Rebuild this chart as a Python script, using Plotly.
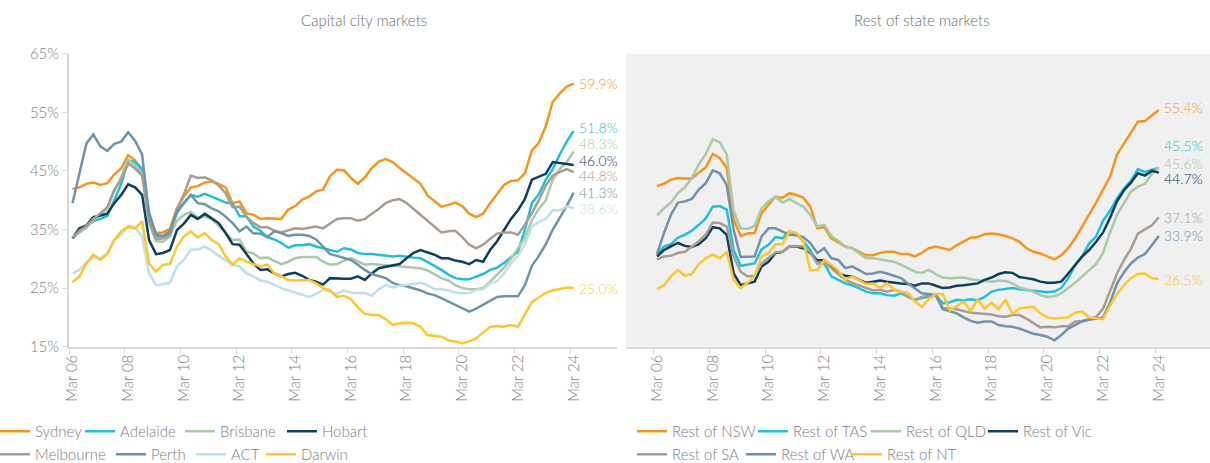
import plotly.graph_objects as go

W, H = 1210, 463

# ---------------- data ----------------
quarter_idx = list(range(73))  # Mar 06 ... Mar 24, quarterly
tick_positions = list(range(0, 73, 8))
tick_labels = ["Mar 06", "Mar 08", "Mar 10", "Mar 12", "Mar 14",
               "Mar 16", "Mar 18", "Mar 20", "Mar 22", "Mar 24"]
y_ticks = [15, 25, 35, 45, 55, 65]
y_tick_labels = ["15%", "25%", "35%", "45%", "55%", "65%"]

# Capital city markets (%)
sydney = [41.9, 42.2, 42.8, 43.0, 42.6, 42.9, 44.4, 45.4, 47.7, 46.8, 45.1, 37.6, 34.4, 34.5, 35.1, 38.6, 40.6, 42.2, 42.4, 43.0,
          43.2, 42.8, 42.2, 39.5, 39.8, 37.8, 37.5, 36.8, 36.9, 36.8, 36.8, 38.4, 39.0, 40.1, 40.6, 41.5, 41.8, 44.1, 45.2, 45.1,
          43.8, 42.8, 43.9, 45.5, 46.6, 47.0, 46.5, 45.5, 44.6, 43.8, 42.8, 40.8, 39.8, 38.9, 39.2, 39.6, 39.0, 37.7, 37.1, 37.7,
          39.5, 41.0, 42.6, 43.3, 43.4, 44.6, 48.5, 49.8, 52.6, 56.8, 58.2, 59.4, 59.9]
adelaide = [33.5, 34.7, 35.5, 36.4, 36.8, 37.3, 40.0, 42.8, 46.8, 46.5, 45.4, 38.0, 33.8, 33.8, 34.4, 37.8, 39.5, 40.9, 40.6, 41.1,
            40.6, 40.1, 39.6, 39.4, 37.3, 37.2, 35.5, 34.8, 33.7, 33.3, 32.7, 31.9, 32.3, 32.3, 32.5, 32.1, 31.8, 31.4, 31.2, 31.8,
            31.6, 31.0, 30.8, 30.8, 30.7, 30.5, 30.4, 30.5, 30.3, 30.2, 30.1, 29.5, 28.8, 28.1, 27.3, 26.7, 26.5, 26.5, 26.9, 27.4,
            28.1, 28.5, 29.3, 30.3, 31.2, 35.0, 39.5, 41.0, 43.5, 45.3, 47.8, 50.0, 51.8]
brisbane = [33.5, 34.5, 35.3, 36.6, 37.5, 38.5, 41.5, 44.0, 46.9, 46.0, 44.5, 36.0, 33.0, 32.9, 33.8, 36.5, 37.5, 38.0, 37.0, 37.2,
            36.8, 35.6, 34.4, 33.2, 33.3, 31.2, 30.9, 30.1, 30.2, 29.7, 29.1, 29.5, 30.1, 30.3, 30.3, 30.3, 29.5, 29.0, 29.1, 29.7,
            30.1, 29.5, 29.0, 29.1, 29.0, 28.8, 28.7, 28.6, 28.6, 28.4, 28.4, 28.0, 27.3, 26.7, 26.3, 25.5, 25.0, 24.8, 24.8, 25.0,
            26.1, 27.3, 28.5, 30.0, 31.8, 33.5, 36.6, 38.5, 40.0, 43.5, 45.3, 46.5, 48.3]
hobart = [33.5, 35.2, 35.7, 37.1, 37.4, 37.7, 39.5, 40.9, 42.7, 42.2, 40.9, 33.2, 30.8, 31.0, 31.5, 34.9, 36.0, 37.5, 36.8, 37.7,
          36.9, 36.1, 34.4, 32.5, 32.4, 30.7, 29.2, 28.1, 28.2, 27.5, 27.0, 27.4, 27.6, 27.1, 26.4, 26.1, 25.6, 26.7, 26.6, 26.6,
          26.6, 27.0, 26.4, 27.5, 28.4, 28.6, 28.8, 29.1, 30.1, 31.0, 31.5, 31.1, 30.7, 30.1, 30.1, 29.7, 29.5, 29.1, 29.8, 29.5,
          31.5, 33.0, 34.8, 36.8, 38.3, 40.2, 43.5, 44.0, 44.5, 46.5, 46.3, 46.1, 46.0]
melbourne = [33.6, 34.8, 35.6, 36.8, 37.8, 38.8, 41.8, 43.5, 46.3, 45.4, 44.2, 36.5, 33.3, 33.5, 34.0, 38.5, 41.0, 44.2, 43.8, 43.9,
             43.4, 42.5, 41.2, 38.8, 38.9, 37.2, 36.1, 35.4, 35.4, 34.8, 34.5, 34.9, 35.2, 35.1, 35.3, 35.5, 35.2, 36.0, 36.8, 36.9,
             36.9, 36.5, 36.8, 37.7, 38.5, 39.5, 40.0, 40.2, 39.5, 38.5, 37.5, 36.4, 35.4, 34.5, 34.7, 34.8, 33.7, 32.4, 31.8, 32.4,
             33.4, 34.3, 34.5, 34.5, 34.1, 35.8, 37.8, 40.0, 42.5, 44.2, 44.8, 45.3, 44.8]
perth = [39.5, 44.5, 49.7, 51.2, 49.2, 48.4, 49.6, 50.0, 51.6, 50.1, 47.8, 37.5, 34.1, 33.9, 34.7, 38.1, 39.5, 40.9, 39.5, 39.3,
         38.6, 38.1, 37.2, 36.1, 34.7, 35.5, 34.3, 34.3, 33.7, 34.7, 34.4, 33.9, 34.1, 34.1, 33.9, 33.3, 32.1, 30.8, 30.5, 30.1,
         29.8, 29.0, 28.1, 27.4, 27.1, 26.7, 25.9, 25.5, 25.3, 25.0, 24.6, 24.1, 23.8, 23.3, 22.7, 22.1, 21.6, 21.0, 21.5, 22.2,
         22.9, 23.5, 23.6, 23.6, 23.6, 25.5, 28.8, 30.5, 32.5, 35.0, 37.0, 39.0, 41.3]
act = [27.5, 28.1, 29.4, 30.3, 30.1, 31.0, 33.2, 34.1, 35.6, 35.4, 33.8, 27.5, 25.5, 25.7, 25.9, 28.7, 29.8, 31.6, 31.6, 32.1,
       31.4, 30.5, 29.7, 29.0, 28.7, 27.5, 27.0, 26.3, 26.1, 25.5, 25.0, 24.6, 24.2, 23.8, 23.5, 24.0, 24.7, 24.4, 24.0, 24.6,
       24.2, 24.1, 24.2, 23.7, 24.8, 25.5, 25.1, 25.4, 25.5, 25.7, 25.9, 25.5, 24.8, 24.8, 24.6, 24.2, 24.1, 24.1, 24.7, 24.8,
       25.8, 26.2, 27.5, 29.2, 30.5, 32.5, 35.5, 36.3, 36.8, 38.3, 38.3, 38.9, 38.6]
darwin = [26.0, 27.0, 29.2, 30.7, 29.8, 30.8, 33.2, 34.7, 35.4, 35.2, 36.4, 29.2, 27.8, 29.0, 29.1, 32.1, 33.8, 34.7, 33.6, 34.4,
          33.2, 32.5, 30.4, 29.0, 30.1, 29.5, 29.1, 28.7, 29.0, 27.5, 27.0, 26.4, 26.3, 26.4, 26.4, 25.8, 25.0, 24.6, 23.5, 23.7,
          23.1, 21.7, 20.6, 20.4, 20.4, 19.7, 18.7, 19.0, 19.1, 19.0, 18.4, 17.0, 16.9, 16.7, 16.1, 15.9, 15.6, 15.9, 16.4, 17.4,
          18.4, 18.5, 18.4, 18.7, 18.4, 20.5, 22.6, 23.4, 24.2, 24.6, 24.8, 25.1, 25.0]

# Rest of state markets (%)
rest_nsw = [42.4, 42.8, 43.5, 43.8, 43.7, 43.7, 44.7, 45.6, 47.9, 47.2, 45.5, 36.7, 33.9, 34.3, 34.4, 37.8, 39.2, 40.6, 40.4, 41.2,
            40.9, 40.4, 38.9, 35.2, 35.4, 33.5, 32.8, 32.1, 31.8, 31.2, 30.6, 30.6, 31.0, 31.2, 31.2, 30.8, 30.8, 30.4, 31.0, 31.8,
            32.1, 31.8, 31.5, 32.3, 32.9, 33.6, 33.7, 34.2, 34.3, 34.2, 33.9, 33.5, 32.9, 31.8, 31.2, 30.9, 30.4, 29.9, 30.6, 31.8,
            33.5, 35.5, 37.5, 39.6, 41.8, 44.0, 47.8, 49.6, 51.5, 53.4, 53.5, 54.5, 55.4]
rest_tas = [30.8, 32.1, 32.5, 33.6, 34.1, 34.8, 35.8, 36.9, 38.9, 39.0, 38.4, 31.5, 28.8, 29.0, 29.2, 31.6, 32.4, 33.7, 33.5, 34.7,
            34.2, 33.0, 31.5, 29.2, 29.2, 27.0, 26.4, 25.8, 25.5, 25.0, 24.4, 24.1, 24.1, 23.8, 23.7, 24.1, 23.5, 23.0, 23.3, 23.5,
            23.8, 22.4, 22.6, 23.0, 22.9, 23.1, 22.9, 23.5, 24.4, 24.7, 24.8, 25.0, 24.8, 24.7, 24.6, 24.4, 24.3, 24.4, 25.0, 26.7,
            28.9, 30.4, 32.6, 33.8, 36.5, 38.2, 40.3, 42.0, 43.3, 45.3, 44.8, 45.2, 45.5]
rest_qld = [37.4, 38.6, 39.6, 41.2, 42.2, 43.8, 46.1, 47.9, 50.4, 49.9, 47.8, 38.1, 35.2, 35.1, 35.6, 38.6, 39.8, 40.6, 39.6, 40.2,
            39.5, 38.9, 37.5, 35.5, 35.8, 33.9, 33.1, 32.1, 31.8, 31.0, 30.1, 30.1, 29.9, 29.7, 29.5, 29.0, 28.4, 27.8, 27.6, 28.1,
            27.4, 26.8, 26.7, 26.7, 26.8, 26.5, 26.4, 26.3, 26.1, 26.3, 26.2, 25.8, 25.1, 24.8, 24.4, 23.8, 23.5, 23.6, 24.1, 25.0,
            25.9, 27.0, 28.1, 29.1, 31.0, 34.5, 37.5, 39.5, 41.5, 42.3, 42.8, 44.5, 45.6]
rest_vic = [30.4, 31.5, 32.1, 32.7, 32.2, 32.0, 32.5, 33.5, 35.4, 35.2, 34.1, 27.5, 25.5, 25.8, 26.1, 28.7, 29.5, 31.0, 31.2, 32.1,
            32.1, 31.8, 31.0, 29.7, 29.8, 28.7, 27.5, 27.1, 27.0, 26.4, 25.9, 26.1, 26.3, 26.1, 25.9, 25.8, 25.7, 25.4, 25.8, 25.8,
            25.4, 25.0, 25.1, 25.4, 25.5, 25.7, 25.8, 26.4, 26.8, 27.4, 27.7, 27.6, 26.9, 26.7, 26.5, 26.1, 25.9, 25.9, 26.1, 27.5,
            28.9, 30.4, 31.5, 32.9, 34.5, 37.0, 39.8, 41.7, 43.0, 44.6, 44.2, 45.0, 44.7]
rest_sa = [29.9, 30.4, 30.5, 31.0, 31.2, 32.1, 33.0, 34.1, 36.2, 36.1, 35.5, 30.4, 27.8, 27.0, 27.1, 29.2, 30.1, 31.1, 31.2, 32.1,
           32.2, 32.1, 31.1, 29.2, 29.4, 28.4, 27.3, 26.4, 25.9, 25.5, 25.0, 24.6, 24.7, 24.4, 24.7, 24.4, 23.5, 23.0, 23.5, 23.8,
           23.8, 21.6, 21.5, 21.4, 21.1, 20.8, 20.7, 20.6, 20.5, 20.2, 20.1, 20.4, 20.4, 19.8, 19.0, 18.3, 18.4, 18.3, 18.5, 18.5,
           19.3, 19.4, 19.7, 20.1, 21.5, 24.5, 27.5, 29.8, 31.7, 34.3, 35.0, 35.7, 37.1]
rest_wa = [30.8, 34.4, 37.5, 39.6, 39.8, 40.2, 41.8, 42.9, 45.1, 44.6, 42.6, 34.9, 30.3, 30.3, 30.4, 33.8, 35.2, 35.2, 34.7, 34.1,
           34.0, 33.7, 32.7, 31.0, 31.8, 30.1, 29.8, 28.4, 28.7, 28.0, 27.4, 27.5, 27.8, 27.5, 27.1, 26.7, 25.8, 25.0, 24.1, 24.0,
           23.8, 21.4, 21.1, 20.7, 20.0, 19.4, 19.1, 19.3, 19.3, 18.7, 18.5, 18.4, 18.1, 17.7, 17.2, 17.0, 16.7, 16.1, 17.0, 18.1,
           18.7, 19.3, 19.6, 19.8, 20.0, 22.5, 25.8, 27.7, 29.2, 30.2, 30.8, 32.3, 33.9]
rest_nt = [24.8, 25.5, 27.0, 28.1, 27.1, 27.4, 29.1, 30.1, 30.7, 30.1, 31.1, 26.4, 25.0, 25.9, 27.0, 30.4, 31.0, 32.5, 32.5, 34.7,
           34.4, 33.0, 28.0, 28.1, 29.8, 29.0, 28.0, 26.4, 27.0, 26.4, 25.7, 25.8, 25.0, 25.8, 24.8, 24.4, 24.2, 22.7, 21.8, 23.1,
           24.0, 24.0, 21.2, 21.9, 22.7, 21.1, 23.0, 21.5, 22.5, 21.4, 23.0, 20.6, 21.5, 21.7, 21.8, 20.7, 20.0, 19.8, 19.9, 20.0,
           20.8, 21.0, 20.0, 19.8, 19.7, 22.0, 24.0, 25.5, 26.7, 27.4, 27.5, 26.7, 26.5]

# ---------------- styling ----------------
ORANGE, CYAN, SAGE, NAVY = "#F7941E", "#1FBFDD", "#A9C9A9", "#0E3F5E"
TAUPE, SLATE, LIGHTBLUE, YELLOW = "#A99C90", "#6F93AB", "#BFDFEB", "#FEC52E"
FONT = "Lato, 'Open Sans', sans-serif"
GREY_TXT = "#808080"
AXIS_GREY = "#d9d9d9"

# (name, values, colour, legend id, legendwidth px, label yshift px)
left_series = [
    ("Sydney", sydney, ORANGE, "legend", 40, 0),
    ("Adelaide", adelaide, CYAN, "legend", 55, 4),
    ("Brisbane", brisbane, SAGE, "legend", 57, 8),
    ("Hobart", hobart, NAVY, "legend", 60, 5),
    ("Melbourne", melbourne, TAUPE, "legend2", 71, -3),
    ("Perth", perth, SLATE, "legend2", 35, 0),
    ("ACT", act, LIGHTBLUE, "legend2", 25, 0),
    ("Darwin", darwin, YELLOW, "legend2", 60, 0),
]
right_series = [
    ("Rest of NSW", rest_nsw, ORANGE, "legend3", 76, 2),
    ("Rest of TAS", rest_tas, CYAN, "legend3", 68, 22),
    ("Rest of QLD", rest_qld, SAGE, "legend3", 72, 4),
    ("Rest of Vic", rest_vic, NAVY, "legend3", 85, -6),
    ("Rest of SA", rest_sa, TAUPE, "legend4", 64, 0),
    ("Rest of WA", rest_wa, SLATE, "legend4", 61, 0),
    ("Rest of NT", rest_nt, YELLOW, "legend4", 85, 0),
]

fig = go.Figure()
annotations = []

for series, xa, ya, xshift in [(left_series, "x", "y", 3), (right_series, "x2", "y2", 3)]:
    for name, vals, col, leg, lw, ysh in series:
        fig.add_trace(go.Scatter(
            x=quarter_idx, y=vals, name=name, mode="lines",
            line=dict(color=col, width=2.5),
            xaxis=xa, yaxis=ya, legend=leg, legendwidth=lw,
            hovertemplate=name + ": %{y:.1f}%<extra></extra>",
        ))
        annotations.append(dict(
            x=quarter_idx[-1], y=vals[-1], xref=xa, yref=ya,
            text=f"{vals[-1]:.1f}%", showarrow=False,
            xanchor="left", yanchor="middle", xshift=xshift, yshift=ysh,
            font=dict(family=FONT, size=14, color=col, weight=300),
        ))

annotations += [
    dict(x=364 / W, y=1 - 20 / H, xref="paper", yref="paper", text="Capital city markets",
         showarrow=False, xanchor="center", yanchor="middle",
         font=dict(family=FONT, size=15, color="#707070", weight=300)),
    dict(x=922 / W, y=1 - 20 / H, xref="paper", yref="paper", text="Rest of state markets",
         showarrow=False, xanchor="center", yanchor="middle",
         font=dict(family=FONT, size=15, color="#707070", weight=300)),
]

y_dom = [(H - 346.7) / H, (H - 53.7) / H]

xaxis_common = dict(
    tickmode="array", tickvals=tick_positions, ticktext=tick_labels,
    tickangle=-90, ticks="", showgrid=False, zeroline=False,
    showline=True, linecolor=AXIS_GREY, linewidth=2,
    tickfont=dict(family=FONT, size=15, color=GREY_TXT, weight=300),
    minor=dict(tickmode="linear", tick0=-0.5, dtick=8, ticks="outside",
               ticklen=5, tickwidth=1, tickcolor=AXIS_GREY, showgrid=False),
)

legend_common = dict(orientation="h", xanchor="left", yanchor="top",
                     bgcolor="rgba(0,0,0,0)",
                     font=dict(family=FONT, size=15, color=GREY_TXT, weight=300))

fig.update_layout(
    width=W, height=H,
    margin=dict(l=0, r=0, t=0, b=0, autoexpand=False),
    paper_bgcolor="white", plot_bgcolor="white",
    font=dict(family=FONT, color=GREY_TXT),
    xaxis=dict(domain=[69 / W, 617 / W], range=[-0.503, 78.23], anchor="y", **xaxis_common),
    yaxis=dict(domain=y_dom, range=[15, 65], anchor="x",
               tickmode="array", tickvals=y_ticks, ticktext=y_tick_labels,
               showline=True, linecolor=AXIS_GREY, linewidth=2,
               ticks="outside", ticklen=5, tickcolor=AXIS_GREY,
               showgrid=False, zeroline=False,
               tickfont=dict(family=FONT, size=15, color=GREY_TXT, weight=300)),
    xaxis2=dict(domain=[626 / W, 1.0], range=[-4.448, 79.34], anchor="y2", **xaxis_common),
    yaxis2=dict(domain=y_dom, range=[15, 65], anchor="x2", visible=False),
    legend=dict(x=-5 / W, y=(H - 415) / H, **legend_common),
    legend2=dict(x=-5 / W, y=(H - 438) / H, **legend_common),
    legend3=dict(x=632 / W, y=(H - 415) / H, **legend_common),
    legend4=dict(x=632 / W, y=(H - 438) / H, **legend_common),
    shapes=[dict(type="rect", xref="x2 domain", yref="y2 domain", x0=0, x1=1, y0=0, y1=1,
                 fillcolor="#f0f0f0", line=dict(width=0), layer="below")],
    annotations=annotations,
    showlegend=True,
)

fig.write_html("out.html", config={"displayModeBar": False},
               post_script="document.body.style.margin='0px';")
